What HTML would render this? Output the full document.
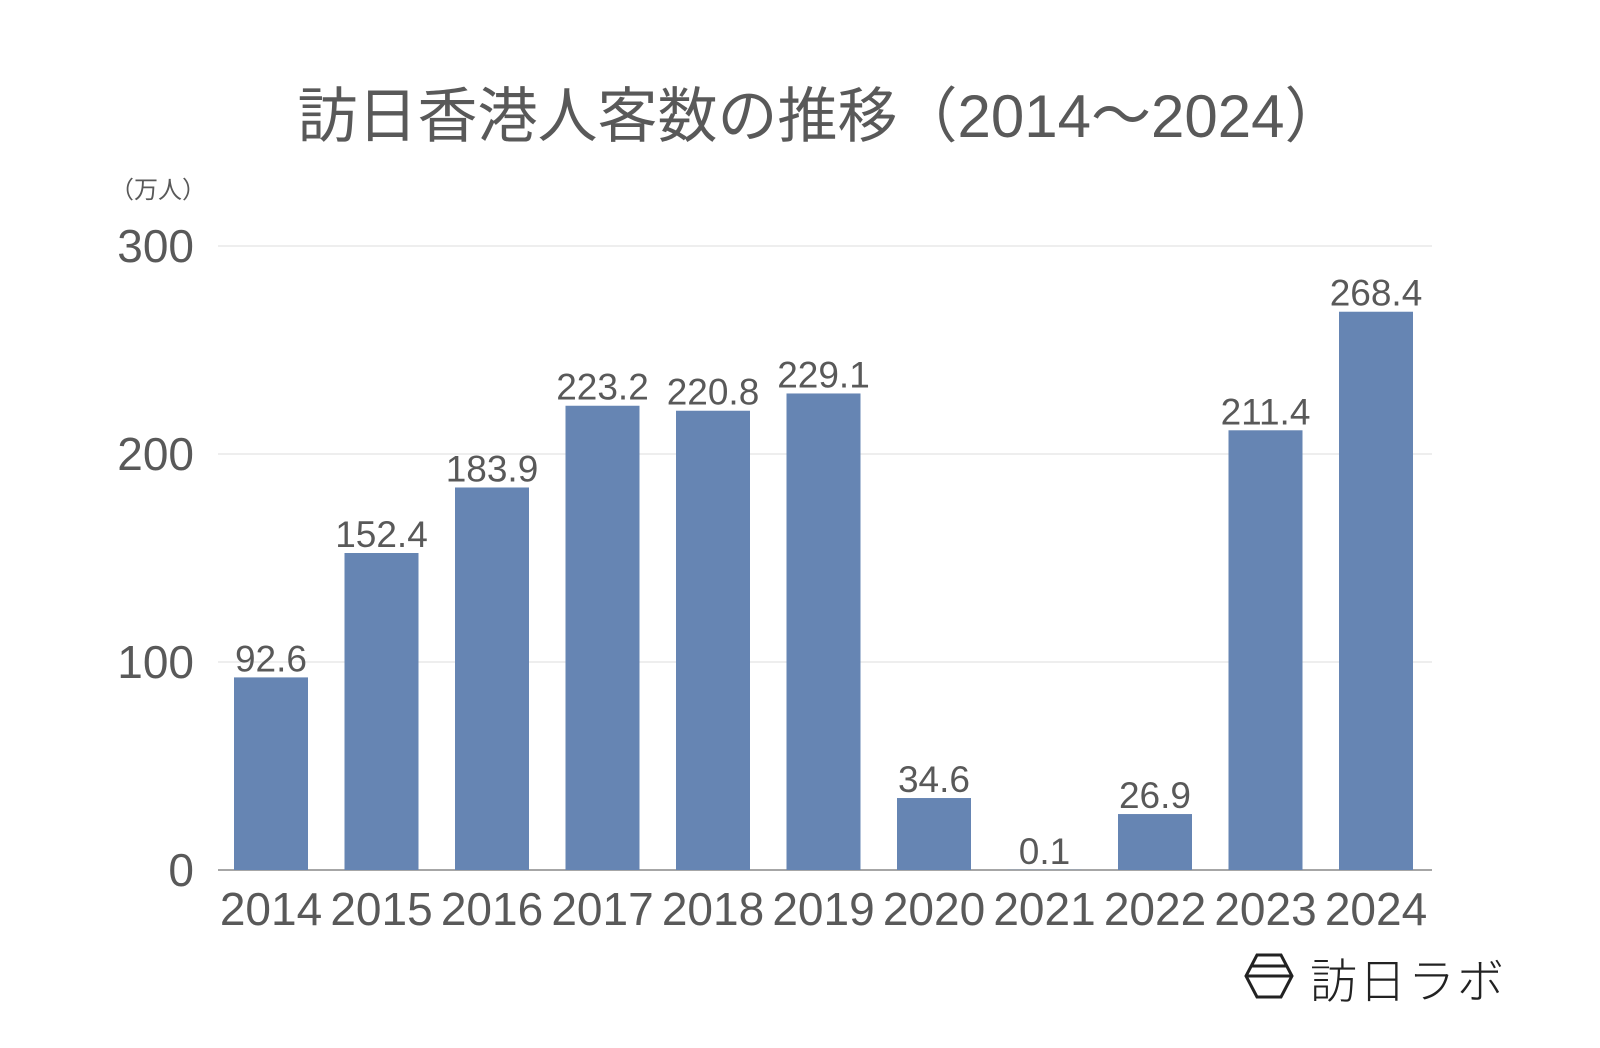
<!DOCTYPE html>
<html><head><meta charset="utf-8">
<style>
html,body{margin:0;padding:0;background:#fff;}
svg{display:block;}
text{font-family:"Liberation Sans","Noto Sans CJK JP",sans-serif;}
</style></head>
<body>
<svg id="chart" width="1600" height="1048" viewBox="0 0 1600 1048" xmlns="http://www.w3.org/2000/svg">
<rect width="1600" height="1048" fill="#fff"/>
<text x="821" y="137" font-size="60" fill="#595959" text-anchor="middle">訪日香港人客数の推移（2014～2024）</text>
<text x="158" y="198" font-size="24" fill="#595959" text-anchor="middle">（万人）</text>
<g id="grid"></g><g id="bars"></g><g id="labels"></g>
<g>
<polygon points="1257,955 1281,955 1292,976 1281,997 1257,997 1246,976" fill="none" stroke="#222" stroke-width="3"/>
<line x1="1251" y1="966" x2="1287" y2="966" stroke="#222" stroke-width="3"/>
<line x1="1246" y1="976" x2="1292" y2="976" stroke="#222" stroke-width="3"/>
<text x="1310" y="998" font-size="47" fill="#222" font-weight="300" letter-spacing="2">訪日ラボ</text>
</g>
</svg>
<script>
const categories=["2014","2015","2016","2017","2018","2019","2020","2021","2022","2023","2024"];
const values=[92.6,152.4,183.9,223.2,220.8,229.1,34.6,0.1,26.9,211.4,268.4];
const valueLabels=["92.6","152.4","183.9","223.2","220.8","229.1","34.6","0.1","26.9","211.4","268.4"];
const yTicks=[0,100,200,300];
const NS="http://www.w3.org/2000/svg";
const plotL=218,plotR=1432,y0=870,yTop=246,yMax=300;
const y=v=>y0-(v/yMax)*(y0-yTop);
const x=i=>271+110.5*i;
const bw=74;
function mk(t,a,p){const e=document.createElementNS(NS,t);for(const k in a)e.setAttribute(k,a[k]);p.appendChild(e);return e;}
const grid=document.getElementById('grid'),bars=document.getElementById('bars'),labels=document.getElementById('labels');
yTicks.forEach(t=>{
 const l=mk('line',{x1:plotL,x2:plotR,y1:y(t),y2:y(t),stroke:t===0?'#888':'#ddd','stroke-width':t===0?1.5:1},grid);
 
 
 const tx=mk('text',{x:194,y:y(t)+16,'font-size':46,fill:'#595959','text-anchor':'end'},grid);
 tx.textContent=t;
 
 
});
categories.forEach((c,i)=>{
 const r=mk('rect',{x:x(i)-bw/2,y:y(values[i]),width:bw,height:y0-y(values[i]),fill:'#6685b3'},bars);
 
 
 const v=mk('text',{x:x(i),y:y(values[i])-6,'font-size':37,fill:'#595959','text-anchor':'middle'},labels);
 v.textContent=valueLabels[i];
 
 
 const cl=mk('text',{x:x(i),y:925,'font-size':46,fill:'#595959','text-anchor':'middle'},labels);
 cl.textContent=c;
 
 
});
</script>
</body></html>
